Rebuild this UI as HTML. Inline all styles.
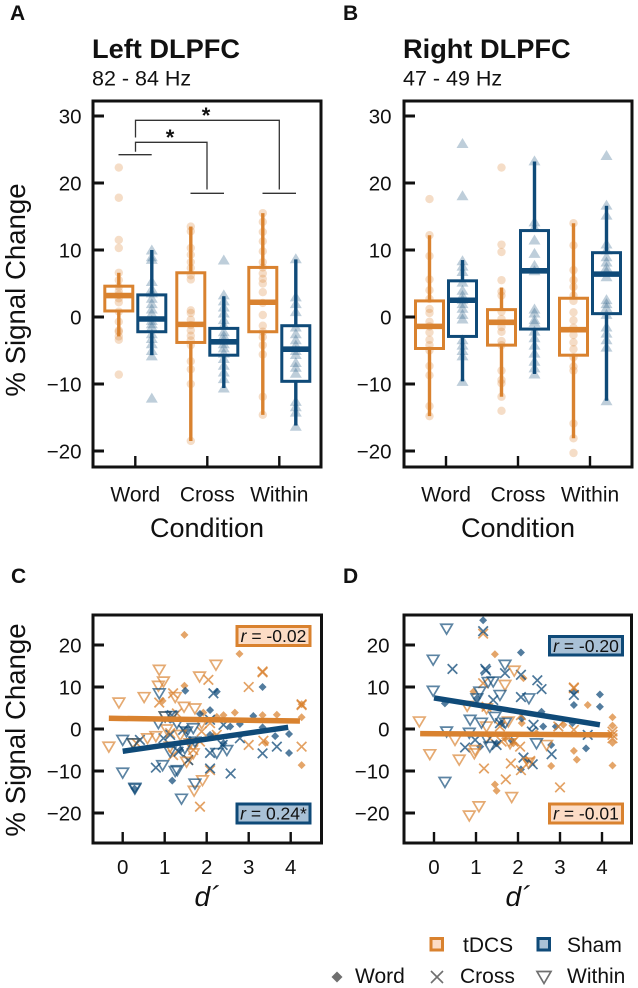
<!DOCTYPE html>
<html lang="en">
<head>
<meta charset="utf-8">
<title>Signal change by condition</title>
<style>
html,body{margin:0;padding:0;background:#fff;width:638px;height:988px;overflow:hidden}
svg{display:block;font-family:"Liberation Sans",Arial,sans-serif;fill:#111}
</style>
</head>
<body>
<svg id="chart" xmlns="http://www.w3.org/2000/svg" width="638" height="988" viewBox="0 0 638 988">
  <rect x="0" y="0" width="638" height="988" fill="#fff"/>
  <text x="10" y="20" font-size="21" font-weight="bold">A</text>
  <text x="343" y="20" font-size="21" font-weight="bold">B</text>
  <text x="11" y="583" font-size="21" font-weight="bold">C</text>
  <text x="343" y="583" font-size="21" font-weight="bold">D</text>
  <text x="92" y="58" font-size="27.2" font-weight="bold">Left DLPFC</text>
  <text x="92" y="85.5" font-size="21.5">82 - 84 Hz</text>
  <text x="403" y="58" font-size="27.2" font-weight="bold">Right DLPFC</text>
  <text x="403" y="85.5" font-size="21.5">47 - 49 Hz</text>
  <text transform="translate(25,290) rotate(-90)" text-anchor="middle" font-size="27.6">% Signal Change</text>
  <text transform="translate(25,730) rotate(-90)" text-anchor="middle" font-size="27.6">% Signal Change</text>
  <text x="207" y="537" text-anchor="middle" font-size="27">Condition</text>
  <text x="518" y="537" text-anchor="middle" font-size="27">Condition</text>
  <text x="207" y="906" text-anchor="middle" font-size="28" font-style="italic">d´</text>
  <text x="518" y="906" text-anchor="middle" font-size="28" font-style="italic">d´</text>
  <g id="plots"></g>
  <g fill="none" stroke="#333" stroke-width="1.3">
    <path d="M135.5 137.5V120.3H279.3V189.5"/>
    <path d="M135.5 151.7V142.3H207V189.5"/>
    <path d="M118.5 154.7H151.7"/>
    <path d="M190.5 193.3H224"/>
    <path d="M262.5 193.3H296"/>
  </g>
  <text x="206" y="123" text-anchor="middle" font-size="22" font-weight="bold">*</text>
  <text x="170" y="145" text-anchor="middle" font-size="22" font-weight="bold">*</text>
  <g>
    <rect x="237" y="626.5" width="73" height="19" fill="#FCDCC5" stroke="#D9822F" stroke-width="3"/>
    <text x="273.5" y="642" text-anchor="middle" font-size="17.5"><tspan font-style="italic">r</tspan> = -0.02</text>
  </g>
  <g>
    <rect x="237" y="804" width="73" height="19" fill="#A9C1D6" stroke="#0F4A78" stroke-width="3"/>
    <text x="273.5" y="819.5" text-anchor="middle" font-size="17.5"><tspan font-style="italic">r</tspan> = 0.24*</text>
  </g>
  <g>
    <rect x="549.5" y="636.5" width="73" height="18.5" fill="#A9C1D6" stroke="#0F4A78" stroke-width="3"/>
    <text x="586" y="652" text-anchor="middle" font-size="17.5"><tspan font-style="italic">r</tspan> = -0.20</text>
  </g>
  <g>
    <rect x="549.5" y="804" width="73" height="19" fill="#FCDCC5" stroke="#D9822F" stroke-width="3"/>
    <text x="586" y="819.5" text-anchor="middle" font-size="17.5"><tspan font-style="italic">r</tspan> = -0.01</text>
  </g>
  <g>
    <rect x="431" y="938.5" width="11.5" height="11.5" fill="#FCDCC5" stroke="#D9822F" stroke-width="3"/>
    <text x="463" y="952" font-size="21">tDCS</text>
    <rect x="538" y="938.5" width="11.5" height="11.5" fill="#A9C1D6" stroke="#0F4A78" stroke-width="3"/>
    <text x="567" y="952" font-size="21">Sham</text>
    <path d="M337 971.5L342.5 977L337 982.5L331.5 977Z" fill="#6f6f6f"/>
    <text x="355" y="983" font-size="21">Word</text>
    <path d="M431 971L443 983M443 971L431 983" fill="none" stroke="#6f6f6f" stroke-width="1.6"/>
    <text x="460" y="983" font-size="21">Cross</text>
    <path d="M537 971.5H551L544 983.5Z" fill="none" stroke="#6f6f6f" stroke-width="1.7"/>
    <text x="567" y="983" font-size="21">Within</text>
  </g>
</svg>
<script>
// ---- shared labels ----
const conditionLabels = ["Word", "Cross", "Within"];
const boxYTicks = [30, 20, 10, 0, -10, -20];
const scatterYTicks = [20, 10, 0, -10, -20];
const scatterXTicks = [0, 1, 2, 3, 4];

// ---- box statistics: [whiskerLow, q1, median, q3, whiskerHigh] per condition ----
const leftTdcsBoxes = [[-2.9, 0.9, 3.2, 4.6, 6.6], [-18.5, -3.8, -1.1, 6.6, 13.5], [-14.6, -2.2, 2.2, 7.4, 15.5]];
const leftShamBoxes = [[-5.7, -2.2, -0.3, 3.3, 10], [-10.6, -5.7, -3.7, -1.7, 3.1], [-16.2, -9.6, -4.8, -1.3, 8.6]];
const rightTdcsBoxes = [[-14.8, -4.7, -1.4, 2.4, 12.2], [-11.9, -4.2, -0.8, 1.1, 4.4], [-18.1, -5.7, -1.9, 2.8, 14]];
const rightShamBoxes = [[-9.6, -2.9, 2.5, 5.4, 8.5], [-8.5, -1.8, 6.9, 12.9, 23.2], [-12.5, 0.5, 6.4, 9.6, 16.6]];

// ---- individual strip values per condition ----
const leftTdcsPoints = [
  [22.3, 17.8, 11.5, 10.3, 6.6, 5.5, 4.5, 3.8, 3.3, 2.8, 2.2, 0.8, -0.7, -2, -2.2, -2.9, -3.4, -8.6],
  [13.5, 12.8, 10.3, 9.3, 8.2, 7.3, 6.2, 5.6, 1, 0.6, -0.4, -1.2, -2, -2.8, -3.5, -4.2, -6.6, -7.8, -10, -18.5],
  [15.5, 14.2, 12.7, 11.3, 9.8, 8.2, 7.4, 6.5, 5.7, 5, 3.7, 2.1, 0.3, -1.3, -2.2, -3, -4.2, -5.6, -11.9, -14.6]
];
const leftShamPoints = [
  [10, 9, 8.6, 5.3, 4.2, 3.6, 2.8, 2, 1.2, 0.5, -0.5, -1, -1.5, -2.5, -3.2, -4, -5, -5.8, -12.1],
  [8.5, 3.3, 2.4, 1.5, 0.6, -0.4, -1.2, -2.2, -2.8, -3.4, -4, -4.6, -5.4, -6.2, -7.2, -8.2, -9.2, -10.6],
  [8.7, 3, 2, 0.8, -1.5, -2.5, -3.4, -4.2, -5, -5.6, -6.8, -7.5, -8.4, -12.6, -13.4, -14.2, -16.3]
];
const rightTdcsPoints = [
  [17.6, 12.2, 9.1, 5.6, 4, 2.7, 1.2, 0.6, -0.7, -1.4, -2.3, -3.4, -4.2, -5, -7.3, -8.7, -13.3, -14.8],
  [22.3, 10.8, 9.7, 5.5, 3.8, 3.2, 0.8, -0.3, -1.5, -2.2, -3.6, -4.2, -8, -9.4, -9.9, -11.9, -14],
  [14, 10.7, 7, 5.5, 4.5, 3.2, 2.4, 0.7, -0.5, -1.6, -2.7, -3.8, -4.8, -6, -7.4, -8, -15.9, -18.1, -20.3]
];
const rightShamPoints = [
  [25.9, 18.1, 8.4, 7.6, 6.8, 5.2, 4, 3.2, 2.6, 2, 1.3, 0.4, -0.3, -3.4, -4.2, -5, -5.8, -9.6],
  [23.3, 14.2, 13.4, 11.5, 9.5, 7.7, 6.9, 1.2, 0.6, -0.4, -0.8, -2.1, -3.1, -4.2, -5.4, -6.6, -7.6, -8.5],
  [24.1, 16.7, 15.2, 10.9, 10, 9, 8.2, 7.4, 6.8, 6, 2.6, 2, 1.4, 0.4, -1.5, -2.4, -3.4, -4.5, -12.5]
];

// ---- scatter [d', % change] ----
const cTdcsWord = [[1.47,22.4],[2.78,17.9],[1.47,10.3],[0.95,6.7],[2.67,3.9],[2.4,3.3],[2.24,2.9],[3.33,3.3],[3.67,3.4],[4.26,2.8],[4.26,-8.6],[3.4,-3.3],[2.16,-1.7],[1.92,3.9],[4.26,5.9]];
const cShamWord = [[1.49,9.1],[3.33,10],[2.08,4.5],[1.84,3.6],[3.11,3.1],[2.79,1.2],[2.56,0.6],[3.33,0.4],[3.63,-1.7],[3.96,-1.2],[3.96,-5.7],[1.18,-12.3],[0.28,-14.2],[2.24,8.9],[2.4,-3.4],[1.13,2.2],[1.52,-0.2],[1.37,-5],[2.08,-1.4],[1.6,-2.6]];
const cTdcsCross = [[1.2,8.5],[0.87,6.3],[2.04,11.7],[3.33,13.5],[3.33,13.7],[3,10],[4.26,5.9],[4.26,5.7],[4.26,-4.2],[3,-3.8],[3.35,-2.8],[1.84,-18.5],[2.08,-9.8],[1.56,-7.4],[2.08,1.4],[1.88,-0.6],[0.33,-3.4],[1.2,-6.2],[1.68,-5],[1.84,-3],[2.24,-1.4],[1.13,-1],[1.29,3.7]];
const cShamCross = [[2.16,8.5],[0.41,-2.6],[0.79,-9.2],[2.08,-9.4],[2.57,-10.6],[3.33,-5.8],[3.67,-4.2],[2.08,2.2],[2.4,1],[2.79,-2.2],[2.38,-3.8],[2.08,-5.7],[1.33,-5.4],[1.13,-1.4],[1.17,3.3],[1.56,-7.4],[1.44,-0.2],[0.97,-2.2]];
const cTdcsWithin = [[0.87,14.1],[0.97,11.3],[0.85,10.3],[2.22,15.3],[1.83,12.5],[0.51,7.6],[-0.09,6.3],[1.25,7.6],[1.46,5.3],[1.72,4.9],[-0.33,-4.2],[0.59,-2.2],[0.79,-1.7],[1.05,-0.1],[1.7,-14.7],[1.9,-12.2],[1.68,-5.8],[1.52,-7.8],[0.25,-3.4],[1.13,-4.2],[1.01,3],[1.37,-1.4],[1.88,1.4],[1.6,-3.4]];
const cShamWithin = [[0.87,8.5],[0,-2.6],[0.25,-3.4],[0,-10.4],[0.29,-14.2],[0.29,-14],[1.4,-16.6],[1.72,-13],[1.3,-9.8],[0.95,-8.6],[1.25,-10],[1.01,3],[0.85,1.4],[1.17,3.1],[1.29,1.4],[1.68,0.2],[1.52,-0.6],[1.13,-5.4],[1.48,-4.6],[2.24,-5.7],[2.48,-5],[1.72,-3]];
const dTdcsWord = [[1.45,17.8],[0.94,8.9],[3.66,5.7],[4.25,2.8],[4.25,0.8],[4.25,-3.3],[4.25,-8.7],[3.33,-5.2],[3.4,-7.3],[2.79,-8.8],[1.45,-13.2],[1.49,-14.7],[2.13,12.1],[2.09,1.4],[1.69,-2.2],[1.17,5.3],[2.44,-1],[3.08,1],[1.89,-3.4],[2.2,-7.4]];
const dShamWord = [[1.17,25.9],[2.07,18.2],[3.95,8.2],[3.95,5.3],[3.33,5.7],[3.33,8.9],[2.56,4.1],[2.6,0.6],[2.9,0.6],[3.3,1.4],[2.79,-3.8],[3.62,-4.6],[2.07,-9.6],[1.61,1.4],[1.85,-2.8],[1.49,-3.4],[0.26,6.1],[1.02,7.3],[2.09,2.5],[1.1,-4.2]];
const dTdcsCross = [[1.17,22.7],[3.33,9.7],[3.33,9.9],[1.25,5.3],[1.17,10.9],[2.07,3.3],[2.96,0.6],[3.33,-0.2],[4.25,-0.6],[4.25,-1.4],[4.25,-2.2],[1.19,-9.4],[1.83,-8.2],[1.71,-12],[3,-13.9],[2.07,-9.8],[2.05,-4.2],[1.89,-3],[1.61,-3],[1.33,-2.2],[1.57,0.6],[2.29,-7.6]];
const dShamCross = [[1.17,23.3],[0.44,14.3],[1.24,13.9],[1.69,13.3],[2.07,12.9],[2.46,11.6],[2.56,9.5],[2.07,7.6],[3.33,8.1],[1.41,6.9],[0.74,-4.4],[1.49,-3.8],[2.8,-6],[2.13,-6.8],[2.35,-8.4],[3.66,-1.4],[2.37,1],[2.33,-0.6],[1.57,1.4],[0.98,-2.6],[1.22,14.3]];
const dTdcsWithin = [[-0.35,1.8],[-0.1,-6],[0.6,-7.3],[0.5,-2.6],[0.96,-5.8],[0.84,-20.6],[1.07,-18.4],[1.85,-16.2],[1.91,13.9],[1.69,10.5],[0.79,5.5],[1.25,0.6],[1.77,1.8],[1.25,4.9],[2.25,-8],[2.68,-3.8],[1.81,-3.4],[0.98,-5]];
const dShamWithin = [[0.3,23.9],[-0.02,16.5],[1.69,15.3],[-0.02,9.1],[0.26,-12.6],[0.3,-0.6],[0.86,2.2],[1.13,1.5],[0.84,-0.9],[1.41,11.3],[1.09,8.9],[1.57,8.1],[2.26,7.3],[1.45,2.9],[2.44,-3.4],[1.33,-4.2],[1.25,-2.2],[1.02,7.3],[1.29,11.2],[1.7,1.5]];

// ---- regression endpoints [x, y] ----
const cTdcsFit = [[-0.33, 2.55], [4.22, 1.9]];
const cShamFit = [[0, -5.3], [3.94, 0.4]];
const dTdcsFit = [[-0.33, -1.1], [4.25, -1.4]];
const dShamFit = [[0, 7.4], [3.95, 1]];

const ORANGE = "#D9822F", BLUE = "#0F4A78";
const NS = "http://www.w3.org/2000/svg";
const root = document.getElementById("plots");

function make(parent, tag, attrs) {
  const el = document.createElementNS(NS, tag);
  for (const k in attrs) el.setAttribute(k, attrs[k]);
  parent.appendChild(el);
  return el;
}
function linear(d0, d1, r0, r1) {
  return function (v) { return r0 + (v - d0) * (r1 - r0) / (d1 - d0); };
}
function group(parent, name) {
  const g = make(parent, "g", {});
  
  
  return g;
}

function drawFrame(g, box, yScale, yTicks, xPositions, xLabels, labelY, yLabelRight) {
  const frame = make(g, "rect", { x: box.l, y: box.t, width: box.r - box.l, height: box.b - box.t, fill: "none", stroke: "#111", "stroke-width": 3 });
  
  
  yTicks.forEach(function (t) {
    const y = yScale(t);
    const tick = make(g, "line", { x1: box.l, x2: box.l + 11, y1: y, y2: y, stroke: "#111", "stroke-width": 3 });
    
    
    const label = make(g, "text", { x: yLabelRight, y: y + 7.4, "text-anchor": "end", "font-size": 20.5 });
    
    
    label.textContent = String(t).replace("-", "\u2212");
  });
  xPositions.forEach(function (x, i) {
    const tick = make(g, "line", { x1: x, x2: x, y1: box.b, y2: box.b - 11, stroke: "#111", "stroke-width": 2.4 });
    
    
    const label = make(g, "text", { x: x, y: labelY, "text-anchor": "middle", "font-size": xLabels[i].length > 1 ? 21 : 20.5 });
    
    
    label.textContent = xLabels[i];
  });
}

function triUp(g, cx, cy, color) {
  const m = make(g, "path", { d: "M" + cx + " " + (cy - 5.5) + "L" + (cx + 6) + " " + (cy + 4.5) + "L" + (cx - 6) + " " + (cy + 4.5) + "Z", fill: color, "fill-opacity": 0.27 });
  
  
}

function drawBoxPanel(name, box, centers, tdcsBoxes, shamBoxes, tdcsPoints, shamPoints, yLabelRight) {
  const g = group(root, name);
  const y = linear(0, 30, 317, 116);
  centers.forEach(function (c, i) {
    const xT = c - 16.5, xS = c + 16.5;
    tdcsPoints[i].forEach(function (v) {
      const m = make(g, "circle", { cx: xT, cy: y(v), r: 4.2, fill: ORANGE, "fill-opacity": 0.27 });
      
      
    });
    shamPoints[i].forEach(function (v) { triUp(g, xS, y(v), BLUE); });
    [[xT, tdcsBoxes[i], ORANGE, 'tdcs-box'], [xS, shamBoxes[i], BLUE, 'sham-box']].forEach(function (s) {
      const bx = s[0], st = s[1], col = s[2];
      const bg = group(g, s[3] + '-' + conditionLabels[i].toLowerCase());
      make(bg, "line", { x1: bx, x2: bx, y1: y(st[4]), y2: y(st[3]), stroke: col, "stroke-width": 3.4 });
      make(bg, "line", { x1: bx, x2: bx, y1: y(st[1]), y2: y(st[0]), stroke: col, "stroke-width": 3.4 });
      make(bg, "rect", { x: bx - 14, y: y(st[3]), width: 28, height: y(st[1]) - y(st[3]), fill: "none", stroke: col, "stroke-width": 3 });
      make(bg, "line", { x1: bx - 14, x2: bx + 14, y1: y(st[2]), y2: y(st[2]), stroke: col, "stroke-width": 5.6 });
    });
  });
  drawFrame(g, box, y, boxYTicks, centers, conditionLabels, 501.5, yLabelRight);
}

function diamond(g, x, y, col) {
  const m = make(g, "path", { d: "M" + x + " " + (y - 4) + "L" + (x + 4) + " " + y + "L" + x + " " + (y + 4) + "L" + (x - 4) + " " + y + "Z", fill: col, "fill-opacity": 0.72 });
  
  
}
function cross(g, x, y, col) {
  const m = make(g, "path", { d: "M" + (x - 4.8) + " " + (y - 4.8) + "L" + (x + 4.8) + " " + (y + 4.8) + "M" + (x + 4.8) + " " + (y - 4.8) + "L" + (x - 4.8) + " " + (y + 4.8), fill: "none", stroke: col, "stroke-opacity": 0.75, "stroke-width": 1.7 });
  
  
}
function triDown(g, x, y, col) {
  const m = make(g, "path", { d: "M" + (x - 5.8) + " " + (y - 4.4) + "H" + (x + 5.8) + "L" + x + " " + (y + 5.4) + "Z", fill: "none", stroke: col, "stroke-opacity": 0.68, "stroke-width": 1.7 });
  
  
}

function drawScatterPanel(name, box, x0px, sets, fits, yLabelRight) {
  const g = group(root, name);
  const y = linear(0, 20, 729, 645);
  const x = linear(0, 4, x0px, x0px + 168);
  sets.tdcsWord.forEach(function (p) { diamond(g, x(p[0]), y(p[1]), ORANGE); });
  sets.shamWord.forEach(function (p) { diamond(g, x(p[0]), y(p[1]), BLUE); });
  sets.tdcsCross.forEach(function (p) { cross(g, x(p[0]), y(p[1]), ORANGE); });
  sets.shamCross.forEach(function (p) { cross(g, x(p[0]), y(p[1]), BLUE); });
  sets.tdcsWithin.forEach(function (p) { triDown(g, x(p[0]), y(p[1]), ORANGE); });
  sets.shamWithin.forEach(function (p) { triDown(g, x(p[0]), y(p[1]), BLUE); });
  fits.forEach(function (f) {
    const l = make(g, "line", { x1: x(f.pts[0][0]), y1: y(f.pts[0][1]), x2: x(f.pts[1][0]), y2: y(f.pts[1][1]), stroke: f.color, "stroke-width": 5.5 });
    
    
  });
  const xPos = scatterXTicks.map(function (t) { return x(t); });
  drawFrame(g, box, y, scatterYTicks, xPos, scatterXTicks.map(String), 874, yLabelRight);
}

drawBoxPanel("panel-a-left-dlpfc", { l: 93, r: 321, t: 101, b: 467 }, [135.3, 207.3, 279.3], leftTdcsBoxes, leftShamBoxes, leftTdcsPoints, leftShamPoints, 81.5);
drawBoxPanel("panel-b-right-dlpfc", { l: 404, r: 632, t: 101, b: 467 }, [446, 518, 590], rightTdcsBoxes, rightShamBoxes, rightTdcsPoints, rightShamPoints, 391.5);
drawScatterPanel("panel-c-scatter-left", { l: 93, r: 321.5, t: 615, b: 843 }, 122.7,
  { tdcsWord: cTdcsWord, shamWord: cShamWord, tdcsCross: cTdcsCross, shamCross: cShamCross, tdcsWithin: cTdcsWithin, shamWithin: cShamWithin },
  [{ pts: cTdcsFit, color: ORANGE, name: "fit-line-tdcs" }, { pts: cShamFit, color: BLUE, name: "fit-line-sham" }], 81.5);
drawScatterPanel("panel-d-scatter-right", { l: 404, r: 631.5, t: 615, b: 843 }, 434,
  { tdcsWord: dTdcsWord, shamWord: dShamWord, tdcsCross: dTdcsCross, shamCross: dShamCross, tdcsWithin: dTdcsWithin, shamWithin: dShamWithin },
  [{ pts: dTdcsFit, color: ORANGE, name: "fit-line-tdcs" }, { pts: dShamFit, color: BLUE, name: "fit-line-sham" }], 389.5);
</script>
</body>
</html>
